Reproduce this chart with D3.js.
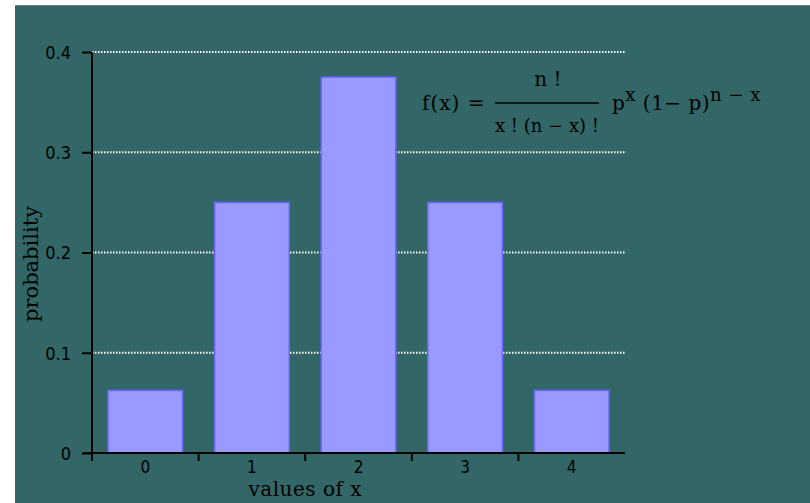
<!DOCTYPE html>
<html>
<head>
<meta charset="utf-8">
<script src="https://cdn.jsdelivr.net/npm/d3@7"></script>
<style>
  body { margin: 0; background: #ffffff; }
  svg { display: block; }
</style>
</head>
<body>
<svg id="chart" width="810" height="503"></svg>
<script>
// binomial distribution, n = 4, p = 0.5
const categories = ["0", "1", "2", "3", "4"];
const probabilities = [0.0625, 0.25, 0.375, 0.25, 0.0625];
const yTicks = [0, 0.1, 0.2, 0.3, 0.4];
const yTickLabels = ["0", "0.1", "0.2", "0.3", "0.4"];

const width = 810, height = 503;
const margin = { top: 52, right: 185, bottom: 50, left: 92 };
const tickFont = "'DejaVu Sans Condensed', 'DejaVu Sans', sans-serif";
const serifFont = "'DejaVu Serif', serif";

const svg = d3.select("#chart");

// teal panel
svg.append("rect")
  .attr("x", 15).attr("y", 5)
  .attr("width", width - 15).attr("height", height - 5)
  .attr("fill", "#336666");
svg.append("line")
  .attr("x1", 15).attr("x2", width)
  .attr("y1", 5.5).attr("y2", 5.5)
  .attr("stroke", "#777").attr("stroke-width", 1);

const x = d3.scaleBand()
  .domain(categories)
  .range([margin.left, width - margin.right])
  .paddingInner(0.3)
  .paddingOuter(0.15);

const y = d3.scaleLinear()
  .domain([0, 0.4])
  .range([height - margin.bottom, margin.top]);

// dotted gridlines
svg.append("g")
  .selectAll("line")
  .data(yTicks.filter(d => d > 0))
  .enter()
  .append("line")
  .attr("x1", margin.left)
  .attr("x2", width - margin.right)
  .attr("y1", d => y(d))
  .attr("y2", d => y(d))
  .attr("stroke", "#ffffff")
  .attr("stroke-width", 2)
  .attr("stroke-dasharray", "1.5,1.5");

// bars
svg.append("g")
  .selectAll("rect")
  .data(probabilities)
  .enter()
  .append("rect")
  .attr("x", (d, i) => x(categories[i]))
  .attr("y", d => y(d))
  .attr("width", x.bandwidth())
  .attr("height", d => y(0) - y(d))
  .attr("fill", "#9999ff")
  .attr("stroke", "#6666ff")
  .attr("stroke-width", 1.5);

// y axis
const yAxis = d3.axisLeft(y)
  .tickValues(yTicks)
  .tickFormat((d, i) => yTickLabels[i])
  .tickSize(10)
  .tickPadding(11);

const gy = svg.append("g")
  .attr("transform", "translate(" + margin.left + ",0)")
  .call(yAxis);
gy.select(".domain").remove();
gy.append("line")
  .attr("x1", 0).attr("x2", 0)
  .attr("y1", y(0.4)).attr("y2", y(0) + 6)
  .attr("stroke", "#000").attr("stroke-width", 2);
gy.selectAll(".tick line").attr("stroke", "#000").attr("stroke-width", 2);
gy.selectAll(".tick text")
  .attr("fill", "#000")
  .attr("dy", "0.36em")
  .style("font-family", tickFont)
  .style("font-size", "18px");

// x axis: ticks at category boundaries
const boundaries = categories.map(c => x(c) - x.step() * x.paddingInner() / 2);
boundaries[0] = margin.left;
const gx = svg.append("g");
gx.append("line")
  .attr("x1", margin.left - 8).attr("x2", width - margin.right)
  .attr("y1", y(0)).attr("y2", y(0))
  .attr("stroke", "#000").attr("stroke-width", 2);
gx.selectAll("line.tk")
  .data(boundaries)
  .enter()
  .append("line")
  .attr("class", "tk")
  .attr("x1", d => d).attr("x2", d => d)
  .attr("y1", y(0)).attr("y2", y(0) + 8)
  .attr("stroke", "#000").attr("stroke-width", 2);
gx.selectAll("text")
  .data(categories)
  .enter()
  .append("text")
  .attr("x", d => x(d) + x.bandwidth() / 2)
  .attr("y", y(0) + 20)
  .attr("text-anchor", "middle")
  .style("font-family", tickFont)
  .style("font-size", "17px")
  .text(d => d);

// axis titles (x title sits under the 1|2 boundary, as in the original)
svg.append("text")
  .attr("x", boundaries[2])
  .attr("y", 496)
  .attr("text-anchor", "middle")
  .style("font-family", serifFont)
  .style("font-size", "20px")
  .style("letter-spacing", "0.5px")
  .text("values of x");

svg.append("text")
  .attr("transform", "translate(38,264) rotate(-90)")
  .attr("text-anchor", "middle")
  .style("font-family", serifFont)
  .style("font-size", "21px")
  .text("probability");

// formula
const f = svg.append("g")
  .style("font-family", serifFont)
  .style("font-size", "20px")
  .attr("fill", "#000");
f.append("text").attr("x", 422).attr("y", 110)
  .style("letter-spacing", "1px").text("f(x) =");
f.append("text").attr("x", 548).attr("y", 86).attr("text-anchor", "middle").text("n !");
f.append("line")
  .attr("x1", 495).attr("x2", 599).attr("y1", 103).attr("y2", 103)
  .attr("stroke", "#000").attr("stroke-width", 1.5);
f.append("text").attr("x", 547).attr("y", 132).attr("text-anchor", "middle")
  .style("font-size", "18px").text("x ! (n \u2212 x) !");
const t = f.append("text").attr("x", 612).attr("y", 110)
  .style("letter-spacing", "0.5px");
t.append("tspan").text("p");
t.append("tspan").attr("dy", -9).style("font-size", "18px").text("x");
t.append("tspan").attr("dy", 9).text(" (1\u2212 p)");
t.append("tspan").attr("dy", -9).style("font-size", "18px").text("n \u2212 x");
</script>
</body>
</html>
